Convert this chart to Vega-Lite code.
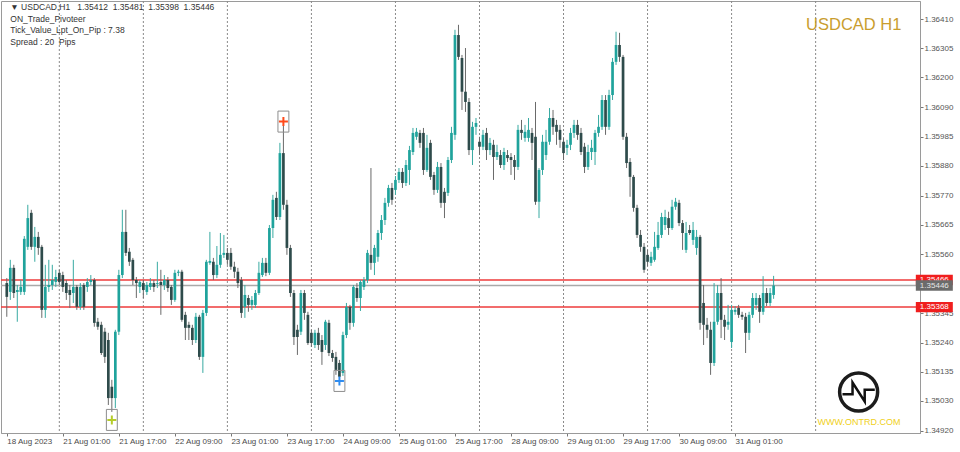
{
"$schema": "https://vega.github.io/schema/vega-lite/v6.json",
"width": 919, "height": 432,
"autosize": {"type": "none"},
"padding": {"left": 1, "top": 1, "right": 40, "bottom": 19},
"background": "white",
"config": {"view": {"stroke": "#9a9a9a", "strokeWidth": 1}, "font": "Liberation Sans", "axis": {"labelOverlap": false, "labelFlush": false, "grid": false}},
"datasets": {
"bars": [
{"i":0,"o":1.35455,"h":1.35473,"l":1.35333,"c":1.35405},
{"i":1,"o":1.35423,"h":1.35539,"l":1.35394,"c":1.35510},
{"i":2,"o":1.35510,"h":1.35521,"l":1.35401,"c":1.35419},
{"i":3,"o":1.35423,"h":1.35448,"l":1.35315,"c":1.35430},
{"i":4,"o":1.35423,"h":1.35466,"l":1.35412,"c":1.35441},
{"i":5,"o":1.35423,"h":1.35625,"l":1.35412,"c":1.35615},
{"i":6,"o":1.35586,"h":1.35738,"l":1.35575,"c":1.35690},
{"i":7,"o":1.35709,"h":1.35720,"l":1.35575,"c":1.35586},
{"i":8,"o":1.35586,"h":1.35658,"l":1.35532,"c":1.35622},
{"i":9,"o":1.35622,"h":1.35640,"l":1.35557,"c":1.35582},
{"i":10,"o":1.35586,"h":1.35593,"l":1.35329,"c":1.35358},
{"i":11,"o":1.35358,"h":1.35521,"l":1.35329,"c":1.35441},
{"i":12,"o":1.35441,"h":1.35539,"l":1.35423,"c":1.35448},
{"i":13,"o":1.35448,"h":1.35521,"l":1.35430,"c":1.35466},
{"i":14,"o":1.35459,"h":1.35503,"l":1.35441,"c":1.35477},
{"i":15,"o":1.35492,"h":1.35503,"l":1.35448,"c":1.35459},
{"i":16,"o":1.35484,"h":1.35496,"l":1.35423,"c":1.35441},
{"i":17,"o":1.35455,"h":1.35466,"l":1.35394,"c":1.35419},
{"i":18,"o":1.35430,"h":1.35448,"l":1.35365,"c":1.35412},
{"i":19,"o":1.35419,"h":1.35539,"l":1.35383,"c":1.35441},
{"i":20,"o":1.35441,"h":1.35448,"l":1.35358,"c":1.35369},
{"i":21,"o":1.35369,"h":1.35455,"l":1.35358,"c":1.35441},
{"i":22,"o":1.35448,"h":1.35455,"l":1.35358,"c":1.35369},
{"i":23,"o":1.35441,"h":1.35473,"l":1.35423,"c":1.35459},
{"i":24,"o":1.35459,"h":1.35484,"l":1.35448,"c":1.35466},
{"i":25,"o":1.35466,"h":1.35473,"l":1.35297,"c":1.35311},
{"i":26,"o":1.35315,"h":1.35329,"l":1.35286,"c":1.35297},
{"i":27,"o":1.35304,"h":1.35315,"l":1.35195,"c":1.35202},
{"i":28,"o":1.35279,"h":1.35293,"l":1.35166,"c":1.35188},
{"i":29,"o":1.35249,"h":1.35275,"l":1.35014,"c":1.35039},
{"i":30,"o":1.35080,"h":1.35105,"l":1.34989,"c":1.35039},
{"i":31,"o":1.35039,"h":1.35286,"l":1.35003,"c":1.35279},
{"i":32,"o":1.35279,"h":1.35503,"l":1.35267,"c":1.35484},
{"i":33,"o":1.35484,"h":1.35720,"l":1.35473,"c":1.35640},
{"i":34,"o":1.35640,"h":1.35720,"l":1.35553,"c":1.35564},
{"i":35,"o":1.35568,"h":1.35582,"l":1.35517,"c":1.35532},
{"i":36,"o":1.35539,"h":1.35546,"l":1.35448,"c":1.35466},
{"i":37,"o":1.35466,"h":1.35477,"l":1.35401,"c":1.35455},
{"i":38,"o":1.35441,"h":1.35466,"l":1.35419,"c":1.35459},
{"i":39,"o":1.35455,"h":1.35466,"l":1.35401,"c":1.35430},
{"i":40,"o":1.35423,"h":1.35459,"l":1.35412,"c":1.35448},
{"i":41,"o":1.35441,"h":1.35473,"l":1.35430,"c":1.35455},
{"i":42,"o":1.35455,"h":1.35466,"l":1.35423,"c":1.35441},
{"i":43,"o":1.35452,"h":1.35532,"l":1.35437,"c":1.35455},
{"i":44,"o":1.35459,"h":1.35503,"l":1.35340,"c":1.35448},
{"i":45,"o":1.35448,"h":1.35484,"l":1.35430,"c":1.35466},
{"i":46,"o":1.35466,"h":1.35477,"l":1.35423,"c":1.35437},
{"i":47,"o":1.35441,"h":1.35448,"l":1.35376,"c":1.35394},
{"i":48,"o":1.35394,"h":1.35503,"l":1.35387,"c":1.35492},
{"i":49,"o":1.35492,"h":1.35503,"l":1.35480,"c":1.35496},
{"i":50,"o":1.35496,"h":1.35503,"l":1.35315,"c":1.35322},
{"i":51,"o":1.35340,"h":1.35351,"l":1.35249,"c":1.35293},
{"i":52,"o":1.35304,"h":1.35315,"l":1.35249,"c":1.35293},
{"i":53,"o":1.35293,"h":1.35304,"l":1.35231,"c":1.35249},
{"i":54,"o":1.35249,"h":1.35347,"l":1.35238,"c":1.35333},
{"i":55,"o":1.35333,"h":1.35340,"l":1.35177,"c":1.35188},
{"i":56,"o":1.35188,"h":1.35358,"l":1.35130,"c":1.35347},
{"i":57,"o":1.35347,"h":1.35539,"l":1.35336,"c":1.35532},
{"i":58,"o":1.35528,"h":1.35640,"l":1.35521,"c":1.35535},
{"i":59,"o":1.35532,"h":1.35546,"l":1.35466,"c":1.35484},
{"i":60,"o":1.35484,"h":1.35589,"l":1.35473,"c":1.35521},
{"i":61,"o":1.35521,"h":1.35636,"l":1.35510,"c":1.35557},
{"i":62,"o":1.35557,"h":1.35629,"l":1.35546,"c":1.35564},
{"i":63,"o":1.35564,"h":1.35582,"l":1.35521,"c":1.35539},
{"i":64,"o":1.35564,"h":1.35582,"l":1.35503,"c":1.35514},
{"i":65,"o":1.35514,"h":1.35532,"l":1.35473,"c":1.35496},
{"i":66,"o":1.35496,"h":1.35510,"l":1.35437,"c":1.35455},
{"i":67,"o":1.35466,"h":1.35477,"l":1.35329,"c":1.35347},
{"i":68,"o":1.35369,"h":1.35448,"l":1.35329,"c":1.35412},
{"i":69,"o":1.35401,"h":1.35412,"l":1.35351,"c":1.35376},
{"i":70,"o":1.35376,"h":1.35408,"l":1.35358,"c":1.35394},
{"i":71,"o":1.35376,"h":1.35430,"l":1.35365,"c":1.35419},
{"i":72,"o":1.35419,"h":1.35532,"l":1.35412,"c":1.35492},
{"i":73,"o":1.35484,"h":1.35546,"l":1.35477,"c":1.35528},
{"i":74,"o":1.35528,"h":1.35546,"l":1.35480,"c":1.35492},
{"i":75,"o":1.35492,"h":1.35665,"l":1.35484,"c":1.35654},
{"i":76,"o":1.35654,"h":1.35774,"l":1.35618,"c":1.35756},
{"i":77,"o":1.35763,"h":1.35785,"l":1.35683,"c":1.35694},
{"i":78,"o":1.35694,"h":1.35962,"l":1.35683,"c":1.35925},
{"i":79,"o":1.35925,"h":1.36027,"l":1.35720,"c":1.35738},
{"i":80,"o":1.35738,"h":1.35756,"l":1.35557,"c":1.35582},
{"i":81,"o":1.35582,"h":1.35593,"l":1.35405,"c":1.35419},
{"i":82,"o":1.35419,"h":1.35430,"l":1.35231,"c":1.35260},
{"i":83,"o":1.35286,"h":1.35304,"l":1.35195,"c":1.35260},
{"i":84,"o":1.35279,"h":1.35430,"l":1.35267,"c":1.35419},
{"i":85,"o":1.35419,"h":1.35430,"l":1.35322,"c":1.35347},
{"i":86,"o":1.35340,"h":1.35351,"l":1.35231,"c":1.35238},
{"i":87,"o":1.35275,"h":1.35286,"l":1.35224,"c":1.35238},
{"i":88,"o":1.35231,"h":1.35286,"l":1.35220,"c":1.35275},
{"i":89,"o":1.35275,"h":1.35293,"l":1.35213,"c":1.35231},
{"i":90,"o":1.35249,"h":1.35267,"l":1.35159,"c":1.35206},
{"i":91,"o":1.35231,"h":1.35322,"l":1.35213,"c":1.35315},
{"i":92,"o":1.35311,"h":1.35322,"l":1.35191,"c":1.35202},
{"i":93,"o":1.35202,"h":1.35213,"l":1.35170,"c":1.35184},
{"i":94,"o":1.35188,"h":1.35206,"l":1.35123,"c":1.35141},
{"i":95,"o":1.35166,"h":1.35177,"l":1.35112,"c":1.35116},
{"i":96,"o":1.35130,"h":1.35279,"l":1.35119,"c":1.35267},
{"i":97,"o":1.35267,"h":1.35383,"l":1.35256,"c":1.35369},
{"i":98,"o":1.35369,"h":1.35376,"l":1.35286,"c":1.35311},
{"i":99,"o":1.35311,"h":1.35448,"l":1.35297,"c":1.35441},
{"i":100,"o":1.35437,"h":1.35455,"l":1.35387,"c":1.35401},
{"i":101,"o":1.35401,"h":1.35466,"l":1.35354,"c":1.35459},
{"i":102,"o":1.35441,"h":1.35477,"l":1.35430,"c":1.35466},
{"i":103,"o":1.35466,"h":1.35575,"l":1.35455,"c":1.35564},
{"i":104,"o":1.35557,"h":1.35871,"l":1.35503,"c":1.35528},
{"i":105,"o":1.35528,"h":1.35593,"l":1.35484,"c":1.35582},
{"i":106,"o":1.35550,"h":1.35647,"l":1.35532,"c":1.35636},
{"i":107,"o":1.35636,"h":1.35701,"l":1.35611,"c":1.35683},
{"i":108,"o":1.35683,"h":1.35763,"l":1.35665,"c":1.35745},
{"i":109,"o":1.35745,"h":1.35810,"l":1.35731,"c":1.35799},
{"i":110,"o":1.35799,"h":1.35817,"l":1.35738,"c":1.35756},
{"i":111,"o":1.35792,"h":1.35842,"l":1.35774,"c":1.35828},
{"i":112,"o":1.35828,"h":1.35871,"l":1.35817,"c":1.35857},
{"i":113,"o":1.35857,"h":1.35871,"l":1.35799,"c":1.35817},
{"i":114,"o":1.35817,"h":1.35900,"l":1.35806,"c":1.35882},
{"i":115,"o":1.35864,"h":1.35951,"l":1.35810,"c":1.35936},
{"i":116,"o":1.35929,"h":1.36016,"l":1.35918,"c":1.35998},
{"i":117,"o":1.35984,"h":1.36016,"l":1.35973,"c":1.36002},
{"i":118,"o":1.35998,"h":1.36009,"l":1.35944,"c":1.35962},
{"i":119,"o":1.35998,"h":1.36016,"l":1.35846,"c":1.35864},
{"i":120,"o":1.35864,"h":1.35991,"l":1.35857,"c":1.35944},
{"i":121,"o":1.35962,"h":1.35973,"l":1.35828,"c":1.35839},
{"i":122,"o":1.35846,"h":1.35857,"l":1.35774,"c":1.35792},
{"i":123,"o":1.35792,"h":1.35893,"l":1.35781,"c":1.35875},
{"i":124,"o":1.35875,"h":1.35889,"l":1.35727,"c":1.35745},
{"i":125,"o":1.35785,"h":1.35799,"l":1.35690,"c":1.35745},
{"i":126,"o":1.35781,"h":1.35911,"l":1.35770,"c":1.35900},
{"i":127,"o":1.35900,"h":1.36020,"l":1.35889,"c":1.35998},
{"i":128,"o":1.35991,"h":1.36371,"l":1.35973,"c":1.36352},
{"i":129,"o":1.36352,"h":1.36389,"l":1.36262,"c":1.36273},
{"i":130,"o":1.36269,"h":1.36280,"l":1.36081,"c":1.36147},
{"i":131,"o":1.36147,"h":1.36305,"l":1.36074,"c":1.36110},
{"i":132,"o":1.36110,"h":1.36124,"l":1.35918,"c":1.35936},
{"i":133,"o":1.35936,"h":1.36038,"l":1.35882,"c":1.36020},
{"i":134,"o":1.36020,"h":1.36052,"l":1.35991,"c":1.36034},
{"i":135,"o":1.35966,"h":1.35984,"l":1.35918,"c":1.35948},
{"i":136,"o":1.35948,"h":1.36009,"l":1.35936,"c":1.35991},
{"i":137,"o":1.35998,"h":1.36016,"l":1.35900,"c":1.35936},
{"i":138,"o":1.35936,"h":1.35980,"l":1.35918,"c":1.35962},
{"i":139,"o":1.35955,"h":1.35973,"l":1.35828,"c":1.35911},
{"i":140,"o":1.35911,"h":1.35955,"l":1.35900,"c":1.35929},
{"i":141,"o":1.35918,"h":1.35936,"l":1.35871,"c":1.35882},
{"i":142,"o":1.35882,"h":1.35944,"l":1.35864,"c":1.35929},
{"i":143,"o":1.35918,"h":1.35936,"l":1.35893,"c":1.35907},
{"i":144,"o":1.35911,"h":1.35925,"l":1.35846,"c":1.35900},
{"i":145,"o":1.35900,"h":1.35918,"l":1.35828,"c":1.35875},
{"i":146,"o":1.35875,"h":1.36027,"l":1.35864,"c":1.36009},
{"i":147,"o":1.36009,"h":1.36045,"l":1.35973,"c":1.35998},
{"i":148,"o":1.35980,"h":1.36027,"l":1.35966,"c":1.36002},
{"i":149,"o":1.35980,"h":1.36052,"l":1.35966,"c":1.36009},
{"i":150,"o":1.35998,"h":1.36016,"l":1.35900,"c":1.35962},
{"i":151,"o":1.35984,"h":1.36110,"l":1.35738,"c":1.35749},
{"i":152,"o":1.35749,"h":1.35871,"l":1.35690,"c":1.35864},
{"i":153,"o":1.35864,"h":1.35991,"l":1.35846,"c":1.35966},
{"i":154,"o":1.35918,"h":1.36009,"l":1.35900,"c":1.35966},
{"i":155,"o":1.35966,"h":1.36088,"l":1.35955,"c":1.36052},
{"i":156,"o":1.36052,"h":1.36081,"l":1.35991,"c":1.36020},
{"i":157,"o":1.36027,"h":1.36045,"l":1.35955,"c":1.36002},
{"i":158,"o":1.36009,"h":1.36027,"l":1.35944,"c":1.35973},
{"i":159,"o":1.35966,"h":1.35980,"l":1.35900,"c":1.35925},
{"i":160,"o":1.35944,"h":1.35973,"l":1.35918,"c":1.35955},
{"i":161,"o":1.35955,"h":1.36016,"l":1.35936,"c":1.35998},
{"i":162,"o":1.35998,"h":1.36045,"l":1.35980,"c":1.36027},
{"i":163,"o":1.36027,"h":1.36045,"l":1.35973,"c":1.35991},
{"i":164,"o":1.35998,"h":1.36016,"l":1.35918,"c":1.35929},
{"i":165,"o":1.35948,"h":1.35962,"l":1.35853,"c":1.35875},
{"i":166,"o":1.35875,"h":1.35955,"l":1.35864,"c":1.35929},
{"i":167,"o":1.35929,"h":1.35973,"l":1.35900,"c":1.35944},
{"i":168,"o":1.35929,"h":1.36009,"l":1.35882,"c":1.35998},
{"i":169,"o":1.35998,"h":1.36063,"l":1.35984,"c":1.36020},
{"i":170,"o":1.36020,"h":1.36135,"l":1.36009,"c":1.36117},
{"i":171,"o":1.36117,"h":1.36135,"l":1.35991,"c":1.36020},
{"i":172,"o":1.36020,"h":1.36154,"l":1.36009,"c":1.36135},
{"i":173,"o":1.36135,"h":1.36269,"l":1.36117,"c":1.36255},
{"i":174,"o":1.36255,"h":1.36364,"l":1.36244,"c":1.36316},
{"i":175,"o":1.36316,"h":1.36360,"l":1.36255,"c":1.36273},
{"i":176,"o":1.36273,"h":1.36280,"l":1.35973,"c":1.35984},
{"i":177,"o":1.35984,"h":1.35998,"l":1.35871,"c":1.35889},
{"i":178,"o":1.35893,"h":1.35907,"l":1.35767,"c":1.35839},
{"i":179,"o":1.35839,"h":1.35846,"l":1.35713,"c":1.35727},
{"i":180,"o":1.35727,"h":1.35738,"l":1.35618,"c":1.35629},
{"i":181,"o":1.35629,"h":1.35647,"l":1.35568,"c":1.35586},
{"i":182,"o":1.35586,"h":1.35600,"l":1.35492,"c":1.35503},
{"i":183,"o":1.35557,"h":1.35575,"l":1.35517,"c":1.35532},
{"i":184,"o":1.35528,"h":1.35568,"l":1.35517,"c":1.35550},
{"i":185,"o":1.35539,"h":1.35640,"l":1.35532,"c":1.35586},
{"i":186,"o":1.35582,"h":1.35676,"l":1.35575,"c":1.35629},
{"i":187,"o":1.35629,"h":1.35709,"l":1.35618,"c":1.35694},
{"i":188,"o":1.35665,"h":1.35720,"l":1.35647,"c":1.35694},
{"i":189,"o":1.35690,"h":1.35713,"l":1.35629,"c":1.35654},
{"i":190,"o":1.35654,"h":1.35756,"l":1.35647,"c":1.35731},
{"i":191,"o":1.35731,"h":1.35763,"l":1.35720,"c":1.35749},
{"i":192,"o":1.35745,"h":1.35756,"l":1.35661,"c":1.35672},
{"i":193,"o":1.35672,"h":1.35683,"l":1.35575,"c":1.35636},
{"i":194,"o":1.35575,"h":1.35676,"l":1.35564,"c":1.35636},
{"i":195,"o":1.35647,"h":1.35665,"l":1.35629,"c":1.35636},
{"i":196,"o":1.35611,"h":1.35676,"l":1.35593,"c":1.35647},
{"i":197,"o":1.35582,"h":1.35647,"l":1.35557,"c":1.35622},
{"i":198,"o":1.35622,"h":1.35629,"l":1.35286,"c":1.35311},
{"i":199,"o":1.35383,"h":1.35448,"l":1.35231,"c":1.35304},
{"i":200,"o":1.35304,"h":1.35329,"l":1.35256,"c":1.35286},
{"i":201,"o":1.35286,"h":1.35315,"l":1.35123,"c":1.35166},
{"i":202,"o":1.35166,"h":1.35455,"l":1.35155,"c":1.35315},
{"i":203,"o":1.35315,"h":1.35448,"l":1.35304,"c":1.35419},
{"i":204,"o":1.35419,"h":1.35473,"l":1.35256,"c":1.35322},
{"i":205,"o":1.35322,"h":1.35340,"l":1.35249,"c":1.35297},
{"i":206,"o":1.35304,"h":1.35376,"l":1.35286,"c":1.35315},
{"i":207,"o":1.35242,"h":1.35376,"l":1.35220,"c":1.35358},
{"i":208,"o":1.35351,"h":1.35372,"l":1.35340,"c":1.35358},
{"i":209,"o":1.35365,"h":1.35376,"l":1.35329,"c":1.35340},
{"i":210,"o":1.35340,"h":1.35351,"l":1.35322,"c":1.35333},
{"i":211,"o":1.35333,"h":1.35347,"l":1.35202,"c":1.35275},
{"i":212,"o":1.35275,"h":1.35351,"l":1.35249,"c":1.35340},
{"i":213,"o":1.35340,"h":1.35419,"l":1.35329,"c":1.35401},
{"i":214,"o":1.35376,"h":1.35419,"l":1.35358,"c":1.35401},
{"i":215,"o":1.35401,"h":1.35412,"l":1.35311,"c":1.35351},
{"i":216,"o":1.35351,"h":1.35480,"l":1.35340,"c":1.35419},
{"i":217,"o":1.35419,"h":1.35437,"l":1.35372,"c":1.35383},
{"i":218,"o":1.35383,"h":1.35437,"l":1.35372,"c":1.35419},
{"i":219,"o":1.35412,"h":1.35481,"l":1.35398,"c":1.35446}
],
"seps": [{"i":15},{"i":39},{"i":63},{"i":87},{"i":111},{"i":135},{"i":159},{"i":183},{"i":207},{"i":231}],
"lvl": [{"p":1.35466,"k":"r1"},{"p":1.35446,"k":"g"},{"p":1.35368,"k":"r2"}],
"mk": [{"i":30,"p":1.34960,"k":"low"},{"i":79,"p":1.36039,"k":"high"},{"i":95,"p":1.35101,"k":"low2"}],
"one": [{"n":1}]
},
"layer": [
{"data": {"name": "seps"},
 "mark": {"type": "rule", "color": "#8a8a8a", "strokeWidth": 1, "strokeDash": [2, 2]},
 "encoding": {"x": {"field": "i", "type": "quantitative", "title": null, "scale": {"domain": [-0.226, 259.38], "nice": false, "zero": false}}}},
{"data": {"name": "lvl"},
 "mark": {"type": "rule", "strokeWidth": 1.5},
 "encoding": {"y": {"field": "p", "type": "quantitative", "title": null, "scale": {"domain": [1.349127, 1.364751], "nice": false, "zero": false}},
  "color": {"condition": {"test": "datum.k === 'g'", "value": "#a9a9a9"}, "value": "#ee3b3b"}}},
{"data": {"name": "bars"},
 "mark": {"type": "rule", "strokeWidth": 1},
 "encoding": {
  "x": {"field": "i", "type": "quantitative", "title": null, "scale": {"domain": [-0.226, 259.38], "nice": false, "zero": false},
   "axis": {"values": [0,16,32,48,64,80,96,112,128,144,160,176,192,208], "tickCount": 40,
    "labelExpr": "['18 Aug 2023','21 Aug 01:00','21 Aug 17:00','22 Aug 09:00','23 Aug 01:00','23 Aug 17:00','24 Aug 09:00','25 Aug 01:00','25 Aug 17:00','28 Aug 09:00','29 Aug 01:00','29 Aug 17:00','30 Aug 09:00','31 Aug 01:00'][round(datum.value/16)]",
    "labelAlign": "left", "labelBaseline": "top", "labelPadding": 1, "tickSize": 3, "tickColor": "#777777", "domainColor": "#9a9a9a",
    "labelColor": "#4a4a4a", "labelFontSize": 8, "labelFont": "Liberation Sans", "labelFlush": false, "labelOverlap": false, "grid": false}},
  "y": {"field": "l", "type": "quantitative", "title": null, "scale": {"domain": [1.349127, 1.364751], "nice": false, "zero": false},
   "axis": {"orient": "right", "values": [1.3641,1.36305,1.362,1.3609,1.35985,1.3588,1.3577,1.35665,1.3556,1.35345,1.3524,1.35135,1.3503,1.3492], "tickCount": 40,
    "format": ".5f", "labelFontSize": 8, "labelFont": "Liberation Sans", "labelColor": "#555555", "tickSize": 3, "tickColor": "#777777",
    "domainColor": "#9a9a9a", "labelPadding": 1, "labelFlush": false, "labelOverlap": false, "grid": false}},
  "y2": {"field": "h"},
  "color": {"condition": {"test": "datum.c >= datum.o", "value": "#38aaa2"}, "value": "#6a6a6a"}}},
{"data": {"name": "bars"},
 "mark": {"type": "bar", "width": 2.7},
 "encoding": {
  "x": {"field": "i", "type": "quantitative", "title": null},
  "y": {"field": "o", "type": "quantitative", "title": null},
  "y2": {"field": "c"},
  "color": {"condition": {"test": "datum.c >= datum.o", "value": "#1fa39c"}, "value": "#2e4b4b"}}},
{"data": {"name": "mk"},
 "mark": {"type": "point", "shape": "M-0.52,-1L0.52,-1L0.52,1L-0.52,1Z", "size": 441, "filled": false, "color": "#8d8d8d", "strokeWidth": 1, "opacity": 1},
 "encoding": {"x": {"field": "i", "type": "quantitative", "title": null}, "y": {"field": "p", "type": "quantitative", "title": null}}},
{"data": {"name": "mk"},
 "mark": {"type": "point", "shape": "M-1,0L1,0M0,-1L0,1", "size": 81, "filled": false, "strokeWidth": 2, "opacity": 1},
 "encoding": {"x": {"field": "i", "type": "quantitative", "title": null}, "y": {"field": "p", "type": "quantitative", "title": null},
  "color": {"field": "k", "type": "nominal", "legend": null, "scale": {"domain": ["high", "low", "low2"], "range": ["#ff4a1a", "#b5cc2a", "#2f8cf0"]}}}},
{"data": {"name": "one"},
 "mark": {"type": "text", "align": "left", "baseline": "top", "fontSize": 8.5, "font": "Liberation Sans", "color": "#333333", "lineBreak": "\n", "lineHeight": 11.7,
  "text": "▼ USDCAD,H1\u00a0\u00a0 1.35412\u00a0 1.35481\u00a0 1.35398\u00a0 1.35446\nON_Trade_Pivoteer\nTick_Value_Lpt_On_Pip : 7.38\nSpread : 20\u00a0 Pips"},
 "encoding": {"x": {"datum": 1.0}, "y": {"datum": 1.364679}}},
{"data": {"name": "one"},
 "mark": {"type": "text", "align": "right", "baseline": "middle", "fontSize": 16.5, "font": "Liberation Sans", "color": "#c99d2e", "text": "USDCAD H1"},
 "encoding": {"x": {"datum": 255.5}, "y": {"datum": 1.363883}}},
{"data": {"name": "one"},
 "mark": {"type": "point", "shape": "circle", "size": 1444, "filled": false, "color": "#1c1c1c", "strokeWidth": 3.5, "opacity": 1},
 "encoding": {"x": {"datum": 243.28}, "y": {"datum": 1.35061}}},
{"data": {"name": "one"},
 "mark": {"type": "point", "shape": "M-0.85,0.12L-0.32,0.12L-0.32,-0.5L0.32,0.5L0.32,-0.12L0.85,-0.12", "size": 1444, "filled": false, "color": "#111111", "strokeWidth": 2.5, "opacity": 1},
 "encoding": {"x": {"datum": 243.28}, "y": {"datum": 1.35061}}},
{"data": {"name": "one"},
 "mark": {"type": "text", "align": "center", "baseline": "middle", "fontSize": 9, "font": "Liberation Sans", "color": "#f0d020", "text": "WWW.ONTRD.COM"},
 "encoding": {"x": {"datum": 243.4}, "y": {"datum": 1.349525}}},
{"data": {"name": "lvl"}, "transform": [{"filter": "datum.k === 'r1'"}],
 "mark": {"type": "point", "shape": "M-1,-0.28L1,-0.28L1,0.28L-1,0.28Z", "size": 1369, "filled": true, "color": "#f01e1e", "opacity": 1},
 "encoding": {"x": {"datum": 264.9}, "y": {"field": "p", "type": "quantitative", "title": null}}},
{"data": {"name": "lvl"}, "transform": [{"filter": "datum.k === 'r1'"}],
 "mark": {"type": "text", "align": "center", "baseline": "middle", "fontSize": 8, "font": "Liberation Sans", "color": "white"},
 "encoding": {"x": {"datum": 264.9}, "y": {"field": "p", "type": "quantitative", "title": null}, "text": {"field": "p", "format": ".5f"}}},
{"data": {"name": "lvl"}, "transform": [{"filter": "datum.k === 'g'"}],
 "mark": {"type": "point", "shape": "M-1,-0.28L1,-0.28L1,0.28L-1,0.28Z", "size": 1369, "filled": true, "color": "#6b6b6b", "opacity": 1},
 "encoding": {"x": {"datum": 264.9}, "y": {"field": "p", "type": "quantitative", "title": null}}},
{"data": {"name": "lvl"}, "transform": [{"filter": "datum.k === 'g'"}],
 "mark": {"type": "text", "align": "center", "baseline": "middle", "fontSize": 8, "font": "Liberation Sans", "color": "#e6e6e6"},
 "encoding": {"x": {"datum": 264.9}, "y": {"field": "p", "type": "quantitative", "title": null}, "text": {"field": "p", "format": ".5f"}}},
{"data": {"name": "lvl"}, "transform": [{"filter": "datum.k === 'r2'"}],
 "mark": {"type": "point", "shape": "M-1,-0.28L1,-0.28L1,0.28L-1,0.28Z", "size": 1369, "filled": true, "color": "#f01e1e", "opacity": 1},
 "encoding": {"x": {"datum": 264.9}, "y": {"field": "p", "type": "quantitative", "title": null}}},
{"data": {"name": "lvl"}, "transform": [{"filter": "datum.k === 'r2'"}],
 "mark": {"type": "text", "align": "center", "baseline": "middle", "fontSize": 8, "font": "Liberation Sans", "color": "white"},
 "encoding": {"x": {"datum": 264.9}, "y": {"field": "p", "type": "quantitative", "title": null}, "text": {"field": "p", "format": ".5f"}}}
]
}
